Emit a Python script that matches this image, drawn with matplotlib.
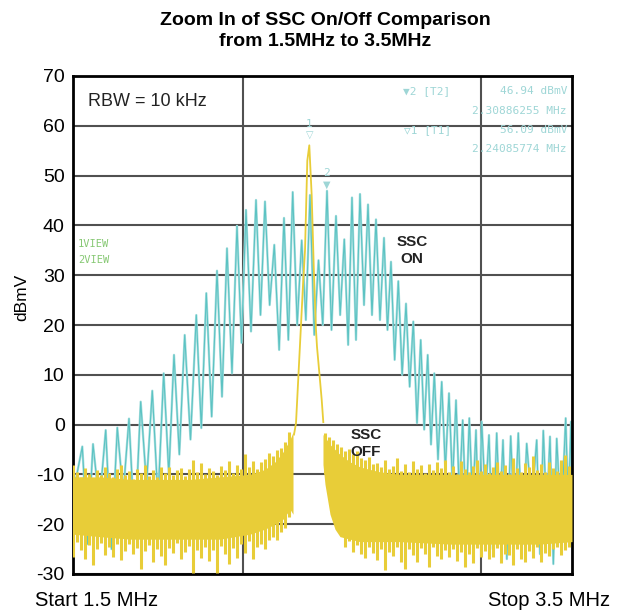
import matplotlib
matplotlib.use("Agg")
import matplotlib.pyplot as plt
import numpy as np

plt.rcParams['font.family'] = ['Liberation Sans', 'DejaVu Sans']
plt.rcParams['axes.unicode_minus'] = False

# ---------------- data (frequency in MHz, level in dBmV) ----------------
# SSC ON (cyan) comb: peak positions, peak levels and the trough levels between peaks
on_peak_mhz = [1.5373, 1.5802, 1.6311, 1.6776, 1.7244, 1.7713, 1.8178, 1.8635, 1.9048, 1.9477,
               1.9942, 2.0343, 2.0772, 2.1172, 2.1573, 2.1934, 2.2335, 2.2695, 2.3068, 2.3457,
               2.3806, 2.4166, 2.4499, 2.4840, 2.5180, 2.5541, 2.5874, 2.6182, 2.6503, 2.6824,
               2.7144, 2.7465, 2.7745, 2.8038, 2.8347, 2.8639, 2.8936, 2.9216, 2.9481, 2.9778,
               3.0070, 3.0351, 3.0619, 3.0884, 3.1152, 3.1381, 3.1673, 3.1982, 3.2234, 3.2543,
               3.2848, 3.3184, 3.3585, 3.3850, 3.4118, 3.4387, 3.4747, 3.4960]
on_peak_db = [-4.4, -3.9, -1.1, -0.6, 1.2, 4.6, 6.8, 10.3, 14.0, 18.0,
              22.0, 26.4, 30.9, 35.4, 39.9, 43.1, 45.1, 44.8, 36.1, 41.5,
              46.7, 37.0, 46.1, 33.0, 46.94, 41.9, 37.2, 45.6, 46.3, 44.2,
              41.2, 37.5, 32.7, 28.8, 24.3, 20.7, 17.0, 14.0, 10.3, 8.6,
              6.3, 4.9, 0.9, 1.3, -1.1, 0.6, -2.1, -1.7, -3.1, -2.3,
              -1.7, -3.8, -3.1, -1.2, -2.4, -2.8, 1.3, 0.6]
on_trough_db = [-24, -16, -25, -14, -22, -12, -15, -10, -6, -3,
                -0.7, 1.6, 5.6, 10.3, 16.4, 18.7, 22, 24, 15, 17,
                20, 21, 18, 20, 19, 22, 16, 17, 24, 22,
                21, 19, 13, 10, 7.6, 0.3, -1, -4, -7, -9,
                -12, -14, -18, -16, -22, -15, -25, -18, -27, -20,
                -24, -16, -26, -18, -28, -20, -17]
on_start_db = -14.0
on_end_db = -20.0

# SSC OFF (yellow): smooth core of the noise band left and right of the carrier
core_left_mhz = [1.5, 1.6082, 1.7285, 1.8487, 1.9689, 2.0892, 2.2094, 2.2695, 2.3096, 2.3417, 2.3697, 2.3818]
core_left_hi = [-10.5, -10.5, -11, -11, -11, -10.5, -10, -9, -7.5, -5.5, -3, -1.5]
core_left_lo = [-22, -22.5, -23, -23, -23, -23, -22, -21, -20, -19, -17, -18]
core_right_mhz = [2.5020, 2.5100, 2.5301, 2.5501, 2.5701, 2.6102, 2.6503, 2.7305, 2.8106, 3.0110, 3.2114, 3.3717, 3.5]
core_right_hi = [-2, -2.5, -4, -5, -6, -7.5, -8.5, -9.5, -10, -10, -10, -10, -10]
core_right_lo = [-8, -12, -18, -21, -22.5, -23, -23.5, -23.5, -23.5, -24, -24, -24, -23.5]

# SSC OFF sweep bins (max / min of each display bin)
bin_left_range = (1.5, 2.3657)
bin_left_hi = [-8.1, -9.6, -10.5, -8.8, -9.9, -10.8, -9.2, -10.1, -8.5, -9.7,
               -10.6, -9.0, -8.1, -10.2, -9.4, -10.9, -8.9, -9.8, -8.1, -10.3,
               -9.1, -10.6, -8.5, -9.7, -8.6, -10.1, -9.2, -8.7, -10.4, -9.0,
               -7.1, -9.6, -7.7, -10.0, -8.8, -9.3, -10.2, -8.4, -9.1, -7.4,
               -9.8, -8.2, -9.0, -6.0, -8.6, -7.4, -8.9, -7.6, -6.9, -5.8,
               -6.4, -5.0, -4.6, -3.4, -1.5]
bin_left_lo = [-26.5, -23.5, -25.2, -27.0, -24.1, -28.2, -25.0, -23.8, -26.1, -24.6,
               -26.5, -24.0, -27.2, -25.3, -23.9, -26.0, -24.8, -28.9, -25.4, -24.2,
               -27.5, -25.0, -26.3, -28.2, -24.7, -25.8, -23.8, -27.0, -25.5, -24.3,
               -29.8, -25.2, -26.8, -24.6, -27.3, -25.1, -29.8, -24.4, -26.0, -28.0,
               -24.8, -26.8, -24.0, -25.8, -23.4, -27.0, -24.5, -23.9, -25.0, -23.2,
               -22.5, -23.2, -21.5, -20.8, -18.5]
bin_right_range = (2.5100, 3.4880)
bin_right_hi = [-1.7, -2.5, -3.0, -3.8, -4.5, -5.4, -4.9, -6.0, -5.4, -6.8,
                -7.2, -6.5, -8.0, -7.8, -8.5, -7.2, -9.0, -8.4, -6.8, -9.3,
                -8.0, -9.6, -7.4, -9.0, -8.2, -9.8, -8.0, -9.1, -7.6, -8.8,
                -7.1, -9.5, -8.3, -10.0, -7.4, -8.9, -9.6, -8.3, -7.1, -9.4,
                -8.0, -9.8, -8.5, -7.6, -9.3, -8.1, -9.9, -6.8, -8.7, -9.5,
                -7.8, -8.6, -6.4, -9.2, -8.0, -9.6, -7.5, -8.8, -9.3, -7.2, -6.1, -8.4]
bin_right_lo = [-10.0, -13.5, -18.0, -20.5, -22.0, -24.5, -23.4, -25.5, -24.2, -26.0,
                -26.8, -24.5, -25.8, -27.2, -24.9, -29.2, -25.5, -26.4, -24.6, -27.5,
                -28.9, -25.0, -26.2, -27.5, -24.8, -25.9, -28.5, -24.6, -26.3, -27.0,
                -25.2, -26.5, -24.9, -27.3, -25.5, -28.5, -26.0, -27.8, -24.7, -26.6,
                -25.4, -27.0, -26.5, -24.8, -27.8, -25.9, -26.2, -28.2, -25.0, -26.9,
                -27.5, -25.3, -26.8, -24.6, -27.5, -25.8, -26.4, -25.0, -24.5, -26.1, -25.2, -24.5]

# SSC OFF carrier lobe
off_peak_mhz = [2.3858, 2.3938, 2.4138, 2.4218, 2.4299, 2.4391, 2.4471, 2.4567, 2.4659, 2.4739,
                2.4780, 2.4880, 2.4968, 2.5032]
off_peak_db = [-2, 0.3, 20, 28, 35, 53, 56.09, 46, 30, 19, 15.6, 10, 5, 0.5]

# markers
marker_mhz_label = ["2.24085774", "2.30886255"]
marker_db = [56.09, 46.94]
marker_pos_mhz = [2.4471, 2.5180]

y_ticks = [70, 60, 50, 40, 30, 20, 10, 0, -10, -20, -30]
x_grid = [2.181, 3.135]

# ---------------- figure ----------------
W, H = 622, 613
fig = plt.figure(figsize=(W / 100, H / 100), dpi=100)
ax = fig.add_axes([73 / W, 1 - 574 / H, 499 / W, 498 / H])
ax.set_xlim(1.5, 3.5)
ax.set_ylim(-30, 70)

CYAN_D = '#5cc3c3'
CYAN_L = '#ace0e0'
YELLOW = '#e8cd38'

# cyan comb trace
xs = [1.5]
ys = [on_start_db]
for i in range(len(on_peak_mhz)):
    xs.append(on_peak_mhz[i]); ys.append(on_peak_db[i])
    if i < len(on_trough_db):
        xs.append(0.5 * (on_peak_mhz[i] + on_peak_mhz[i + 1])); ys.append(on_trough_db[i])
xs.append(3.5); ys.append(on_end_db)
ax.plot(xs, ys, color=CYAN_L, lw=1.7, zorder=2, solid_joinstyle='round')
ax.plot(xs, ys, color=CYAN_D, lw=0.8, zorder=2)

# yellow noise band
ax.fill_between(core_left_mhz, core_left_lo, core_left_hi, color=YELLOW, lw=0, zorder=3)
ax.fill_between(core_right_mhz, core_right_lo, core_right_hi, color=YELLOW, lw=0, zorder=3)
bl = np.linspace(bin_left_range[0], bin_left_range[1], len(bin_left_hi))
br = np.linspace(bin_right_range[0], bin_right_range[1], len(bin_right_hi))
ax.vlines(bl, bin_left_lo, bin_left_hi, color=YELLOW, lw=2.2, zorder=3)
ax.vlines(br, bin_right_lo, bin_right_hi, color=YELLOW, lw=2.2, zorder=3)
ax.plot(off_peak_mhz, off_peak_db, color=YELLOW, lw=1.3, zorder=3)

# grid & frame
ax.set_yticks(y_ticks)
ax.set_xticks(x_grid)
ax.set_xticklabels([])
ax.tick_params(axis='both', length=0, labelsize=14, pad=6)
ax.grid(True, color='#505050', lw=1.5)
ax.set_axisbelow(True)
for s in ax.spines.values():
    s.set_linewidth(2)
    s.set_color('black')

# markers on trace
MK = '#9ed6d6'
ax.annotate('\u25BD', (marker_pos_mhz[0], marker_db[0]), xytext=(0, 4), textcoords='offset points',
            ha='center', va='bottom', fontsize=7, color=MK, family='DejaVu Sans', zorder=5)
ax.annotate('1', (marker_pos_mhz[0], marker_db[0]), xytext=(0, 12), textcoords='offset points',
            ha='center', va='bottom', fontsize=8, color=MK, family='DejaVu Sans Mono', zorder=5)
ax.annotate('\u25BC', (marker_pos_mhz[1], marker_db[1]), xytext=(0, 1), textcoords='offset points',
            ha='center', va='bottom', fontsize=7, color=MK, family='DejaVu Sans', zorder=5)
ax.annotate('2', (marker_pos_mhz[1], marker_db[1]), xytext=(0, 9), textcoords='offset points',
            ha='center', va='bottom', fontsize=8, color=MK, family='DejaVu Sans Mono', zorder=5)

def ft(px, py, s, **kw):
    fig.text(px / W, 1 - py / H, s, **kw)

mono = dict(family='DejaVu Sans Mono', fontsize=8, color=MK, va='center')
ft(403, 91, '\u25BC2 [T2]', ha='left', **mono)
ft(567, 91, '%.2f dBmV' % marker_db[1], ha='right', **mono)
ft(567, 111, marker_mhz_label[1] + ' MHz', ha='right', **mono)
ft(404, 130, '\u25BD1 [T1]', ha='left', **mono)
ft(567, 130, '%.2f dBmV' % marker_db[0], ha='right', **mono)
ft(567, 149, marker_mhz_label[0] + ' MHz', ha='right', **mono)

green = dict(family='DejaVu Sans Mono', fontsize=7.5, color='#86c873', va='center', ha='left')
ft(78, 244, '1VIEW', **green)
ft(78, 260, '2VIEW', **green)

ft(88, 101, 'RBW = 10 kHz', fontsize=13, va='center', ha='left', color='#222222')
bold = dict(fontsize=11, fontweight='bold', ha='center', va='center', color='#222222')
ft(412, 242, 'SSC', **bold)
ft(412, 259, 'ON', **bold)
ft(366, 435, 'SSC', **bold)
ft(366, 452, 'OFF', **bold)

ft(325, 31, 'Zoom In of SSC On/Off Comparison\nfrom 1.5MHz to 3.5MHz', fontsize=14,
   fontweight='bold', ha='center', va='center', linespacing=1.3)
ft(22, 297, 'dBmV', fontsize=12.5, rotation=90, ha='center', va='center')
ft(35, 600, 'Start 1.5 MHz', fontsize=14.5, ha='left', va='center')
ft(610, 600, 'Stop 3.5 MHz', fontsize=14.5, ha='right', va='center')

fig.savefig('out.png', dpi=100)
